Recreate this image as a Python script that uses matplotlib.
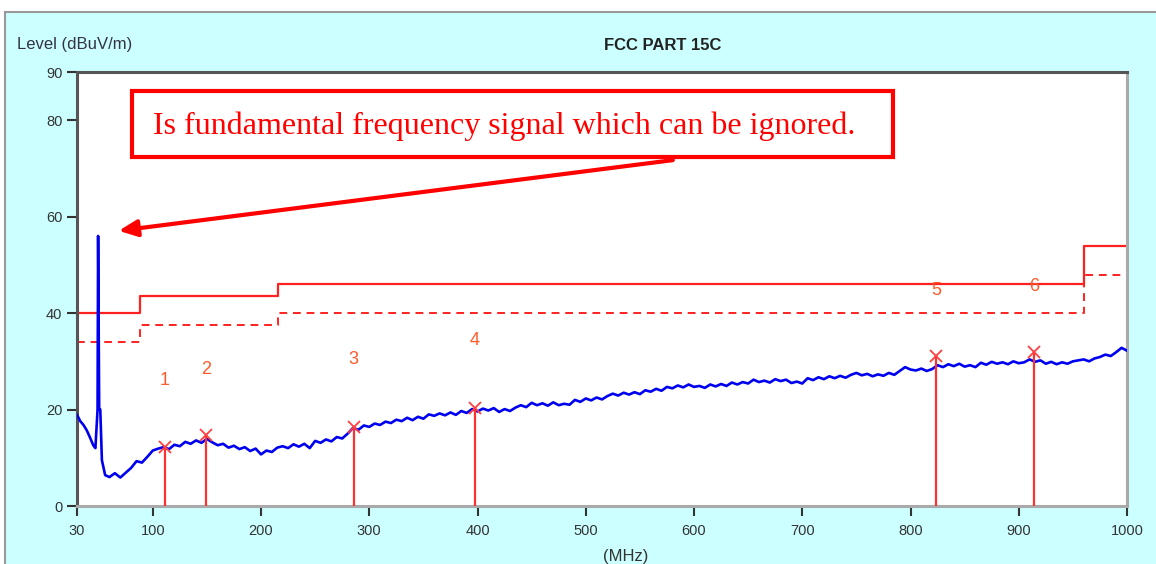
import numpy as np
import matplotlib.pyplot as plt
from matplotlib.patches import Rectangle

plt.rcParams['font.family'] = ['Liberation Sans', 'DejaVu Sans']

# measured trace (MHz, dBuV/m)
trace_freq = [30, 33, 36, 39, 42, 45, 47, 49, 49.5, 50.5, 51.5, 53, 56] + list(range(60, 1001, 5))
trace_level = [18.9, 17.6, 16.8, 15.7, 14.2, 12.6, 12.0, 20.0, 56.0, 20.0, 20.0, 9.5, 6.4,
    6.0, 6.8, 5.9, 6.9, 7.9, 9.3, 9.0, 10.2, 11.5, 11.9,
    12.2, 11.8, 12.7, 12.4, 13.3, 12.9, 13.6, 13.1, 13.9, 13.2,
    12.6, 12.9, 12.1, 12.5, 11.8, 12.2, 11.4, 11.9, 10.7, 11.5,
    11.2, 12.1, 12.4, 12.0, 12.8, 12.3, 12.9, 12.0, 13.5, 13.1,
    13.8, 13.4, 14.3, 14.0, 15.0, 16.2, 15.8, 16.7, 16.4, 17.1,
    16.8, 17.5, 17.2, 17.9, 17.6, 18.3, 17.8, 18.5, 18.1, 19.0,
    18.7, 19.2, 18.8, 19.4, 18.9, 19.7, 19.3, 20.1, 19.6, 20.2,
    19.8, 20.3, 19.5, 20.1, 19.7, 20.4, 20.9, 20.5, 21.4, 20.9,
    21.3, 20.8, 21.5, 20.9, 21.2, 21.0, 22.0, 21.6, 22.3, 21.9,
    22.5, 22.1, 22.8, 23.3, 22.9, 23.5, 23.1, 23.6, 23.2, 24.0,
    23.7, 24.3, 23.9, 24.7, 24.4, 25.0, 24.6, 25.2, 24.7, 24.9,
    24.5, 25.2, 24.8, 25.3, 24.9, 25.6, 25.2, 25.7, 25.4, 26.2,
    25.7, 26.0, 25.6, 26.3, 25.9, 26.2, 25.5, 25.8, 25.4, 26.5,
    26.1, 26.7, 26.3, 26.9, 26.5, 27.0, 26.6, 27.2, 27.6, 27.1,
    27.4, 26.9, 27.3, 27.0, 27.6, 27.2, 28.0, 28.8, 28.3, 28.1,
    28.5, 28.0, 28.4, 29.2, 28.8, 29.4, 29.0, 29.5, 28.9, 29.2,
    28.8, 29.7, 29.3, 29.9, 29.5, 29.8, 29.4, 30.0, 29.6, 29.8,
    30.4, 29.9, 30.2, 29.5, 29.9, 29.4, 29.8, 29.5, 30.0, 30.2,
    30.4, 30.0, 30.6, 30.9, 31.4, 31.1, 31.9, 32.8, 32.2]

# FCC limit (quasi-peak) and margin line
limit_freq = [30, 88, 216, 960, 1000]
limit_level = [40, 43.5, 46, 54, 54]
margin_level = [34, 37.5, 40, 48, 48]

# suspected peaks
peak_freq = [111.4, 149.4, 285.5, 397.5, 824, 914]
peak_level = [12.2, 14.7, 16.4, 20.3, 31.1, 32.0]
peak_label = ['1', '2', '3', '4', '5', '6']
label_level = [26.1, 28.4, 30.3, 34.4, 44.6, 45.6]

x_ticks = [30, 100, 200, 300, 400, 500, 600, 700, 800, 900, 1000]
y_ticks = [0, 20, 40, 60, 80, 90]

fig = plt.figure(figsize=(11.56, 5.64), dpi=100)
fig.patches.append(Rectangle((5/1156, -0.01), 1.0, (564-12)/564 + 0.01, transform=fig.transFigure,
                             facecolor='#ccffff', edgecolor='#999999', linewidth=1.5, zorder=-10))
ax = fig.add_axes([77/1156, 58/564, 1050/1156, 434/564])
ax.set_facecolor('white')

ax.step(limit_freq, limit_level, where='post', color='#ff2020', linewidth=1.6)
ax.step(limit_freq, margin_level, where='post', color='#ff2020', linewidth=1.4, dashes=(4, 3))

ax.plot(trace_freq, trace_level, color='#0000f0', linewidth=1.9, zorder=3)

for f, lv, lab, ly in zip(peak_freq, peak_level, peak_label, label_level):
    ax.plot([f, f], [0, lv], color='#ff3030', linewidth=1.6, zorder=4)
    ax.plot(f, lv, marker='x', color='#ff4040', markersize=8, markeredgewidth=1.3, zorder=5)
    ax.text(f, ly, lab, color='#ff5a2a', fontsize=13, ha='center', va='center')

# annotation box and arrow
ax.add_patch(Rectangle((80.9, 72.4), 702.5, 13.7, facecolor='white', edgecolor='#ff0000',
                       linewidth=3, zorder=6))
ax.text(425, 78.8, 'Is fundamental frequency signal which can be ignored.', color='#ff0000',
        fontsize=23, family=['Liberation Serif', 'DejaVu Serif'], ha='center', va='center', zorder=7)
ax.annotate('', xy=(66, 57), xytext=(583, 71.8),
            arrowprops=dict(arrowstyle='-|>,head_length=1.1,head_width=0.5', color='#ff0000', lw=3),
            zorder=7)

ax.set_xlim(30, 1000)
ax.set_ylim(0, 90)
ax.set_xticks(x_ticks)
ax.set_yticks(y_ticks)
ax.tick_params(axis='both', direction='out', length=7, width=1.5, color='#333333',
               labelsize=10.5, labelcolor='#333333')
ax.tick_params(axis='x', pad=6)

for side in ['top', 'left']:
    ax.spines[side].set_color('#555555')
    ax.spines[side].set_linewidth(2.2)
for side in ['right', 'bottom']:
    ax.spines[side].set_color('#aaaaaa')
    ax.spines[side].set_linewidth(2.2)

fig.text(17/1156, 1 - 44/564, 'Level (dBuV/m)', fontsize=12, color='#333344', va='center')
fig.text(663/1156, 1 - 45/564, 'FCC PART 15C', fontsize=12, fontweight='bold', color='#222222',
         ha='center', va='center')
fig.text(626/1156, 1 - 556/564, '(MHz)', fontsize=12, color='#333333', ha='center', va='center')

fig.savefig('out.png', dpi=100)
